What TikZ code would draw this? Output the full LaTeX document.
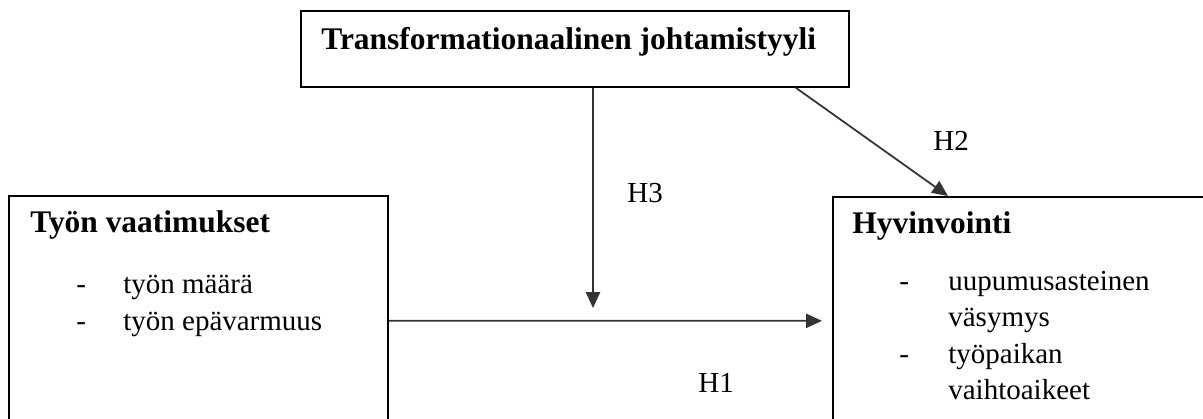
\documentclass[tikz,border=0pt]{standalone}
\usepackage{fontspec}
\setmainfont{Liberation Serif}
\usetikzlibrary{arrows.meta}
\begin{document}
\begin{tikzpicture}[x=0.02cm,y=-0.02cm,font=\fontsize{16.5}{19}\selectfont,
  box/.style={draw=black,line width=1pt,inner sep=0pt,anchor=north west},
  lbl/.style={anchor=base west,inner sep=0pt},
  head/.style={lbl,font=\bfseries\fontsize{17.9}{21}\selectfont},
  conn/.style={draw=black!80,line width=1pt,-{Triangle[length=9pt,width=8pt]}}]
  \path[use as bounding box] (0,0) rectangle (1203,419);
  \clip (0,0) rectangle (1203,419);
  % boxes (the two lower ones run off the page)
  \node[box,minimum width=10.96cm,minimum height=1.52cm] (leader) at (300,10) {};
  \node[box,minimum width=7.58cm,minimum height=5cm] (demands) at (8,195) {};
  \node[box,minimum width=8cm,minimum height=4.96cm] (wellbeing) at (832,196) {};
  \node[head] (leadertitle) at (321,50) {Transformationaalinen johtamistyyli};
  \node[head] (demandstitle) at (30,232) {Työn vaatimukset};
  \node[head] (wellbeingtitle) at (852,233) {Hyvinvointi};
  \foreach \yy/\txt [count=\i] in {293/{työn määrä},330/{työn epävarmuus}}{
    \node[lbl] (demdash\i) at (76,\yy) {-};
    \node[lbl] (demitem\i) at (123,\yy) {\txt};
  }
  \foreach \yy/\txt [count=\i] in {290/{uupumusasteinen},363/{työpaikan}}{
    \node[lbl] (welldash\i) at (899,\yy) {-};
    \node[lbl] (wellitem\i) at (948,\yy) {\txt};
  }
  \node[lbl] (wellmore1) at (948,326) {väsymys};
  \node[lbl] (wellmore2) at (948,399) {vaihtoaikeet};
  % hypotheses
  \coordinate (mod) at (593,320);
  \draw[conn] (demands.east) -- ([xshift=-5.7pt]wellbeing.west);
  \draw[conn] (leader.south -| mod) -- ([yshift=6.8pt]mod);
  \draw[conn] ([xshift=4.42cm]leader.south) -- ([xshift=2.32cm]wellbeing.north west);
  \node[lbl] (h1) at (698,392) {H1};
  \node[lbl] (h2) at (933,150) {H2};
  \node[lbl] (h3) at (627,202) {H3};
\end{tikzpicture}
\end{document}
